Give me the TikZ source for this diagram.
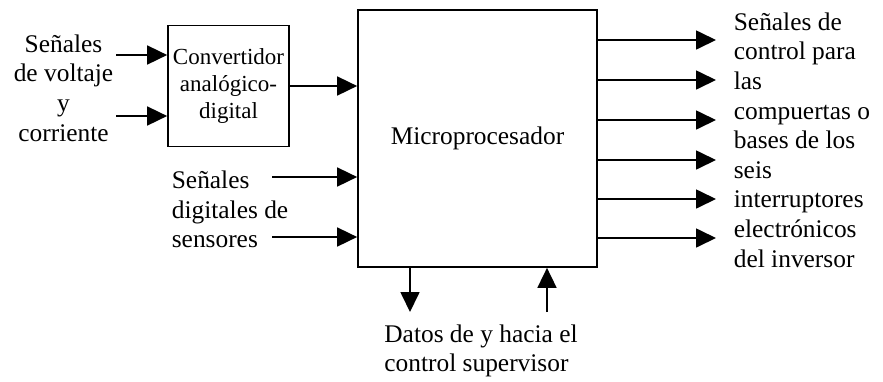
\documentclass[tikz,border=0pt]{standalone}
\usepackage{fontspec}
\setmainfont{Liberation Serif}
\usetikzlibrary{arrows.meta,positioning}
\begin{document}
\begin{tikzpicture}[x=0.5pt, y=-0.5pt, >={Triangle[length=10pt,width=9.5pt]}, line width=0.85pt,
    font=\fontsize{12.7}{14.8}\selectfont,
    blk/.style={draw, inner sep=0pt, align=center},
    lbl/.style={inner sep=0pt, align=left}]
        \useasboundingbox (0,0) rectangle (883,381);
        \node[blk, minimum width=60.5pt, minimum height=60.5pt, font=\fontsize{11.5}{13.5}\selectfont] (conv) at (228.5,86) {Convertidor\\analógico-\\digital};
        \node[blk, minimum width=119.5pt, minimum height=128.5pt] (micro) at (477.5,138.5) {Microprocesador};
        \node[lbl, align=center] (volt) at (63.5,88) {Señales\\de voltaje\\y\\corriente};
        \node[lbl, anchor=west] (sens) at (171,209.5) {Señales\\digitales de\\sensores};
        \node[lbl, anchor=west] (ctrl) at (733,140) {Señales de\\control para\\las\\compuertas o\\bases de los\\seis\\interruptores\\electrónicos\\del inversor};
        \node[lbl] (sup) at (481,351) {Datos de y hacia el\\control supervisor};
        \coordinate (v1) at (116,55);
        \coordinate (v2) at (116,116);
        \coordinate (s1) at (272,177);
        \coordinate (s2) at (272,237);
        \coordinate (dn) at (410,312);
        \coordinate (up) at (547,312);
        \draw[->] (v1) -- (v1 -| conv.west);
        \draw[->] (v2) -- (v2 -| conv.west);
        \draw[->] (conv.east) -- (conv.east -| micro.west);
        \draw[->] (s1) -- (s1 -| micro.west);
        \draw[->] (s2) -- (s2 -| micro.west);
        \foreach \y [count=\i] in {40,80,120,160,199,238}{
            \coordinate (o\i) at (716,\y);
            \draw[->] (micro.east |- o\i) -- (o\i);
        }
        \draw[->] (dn |- micro.south) -- (dn);
        \draw[->] (up) -- (up |- micro.south);
    \end{tikzpicture}
\end{document}
